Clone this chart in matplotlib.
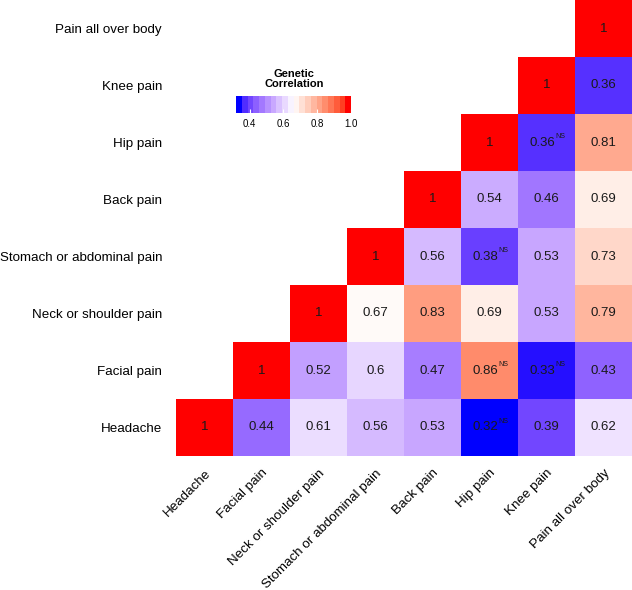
import numpy as np
import matplotlib
matplotlib.use("Agg")
import matplotlib.pyplot as plt
from matplotlib.colors import ListedColormap, Normalize

plt.rcParams['font.family'] = ['Liberation Sans', 'DejaVu Sans']

traits = ["Headache", "Facial pain", "Neck or shoulder pain", "Stomach or abdominal pain",
          "Back pain", "Hip pain", "Knee pain", "Pain all over body"]

# upper-triangular rows: row i holds columns i..7
row_headache = [1, 0.44, 0.61, 0.56, 0.53, 0.32, 0.39, 0.62]
row_facial = [1, 0.52, 0.60, 0.47, 0.86, 0.33, 0.43]
row_neck = [1, 0.67, 0.83, 0.69, 0.53, 0.79]
row_stomach = [1, 0.56, 0.38, 0.53, 0.73]
row_back = [1, 0.54, 0.46, 0.69]
row_hip = [1, 0.36, 0.81]
row_knee = [1, 0.36]
row_all = [1]
rows = [row_headache, row_facial, row_neck, row_stomach, row_back, row_hip, row_knee, row_all]

# non-significant flags (row, col)
ns_cells = [(0, 5), (1, 5), (1, 6), (3, 5), (5, 6)]


# ---- Lab-interpolated diverging colormap (blue - white - red) ----
def srgb_to_lab(rgb):
    rgb = np.asarray(rgb, float)
    lin = np.where(rgb <= 0.04045, rgb / 12.92, ((rgb + 0.055) / 1.055) ** 2.4)
    M = np.array([[0.4124, 0.3576, 0.1805], [0.2126, 0.7152, 0.0722], [0.0193, 0.1192, 0.9505]])
    xyz = M @ lin
    xyz = xyz / np.array([0.95047, 1.0, 1.08883])
    f = np.where(xyz > 0.008856, np.cbrt(xyz), 7.787 * xyz + 16 / 116)
    return np.array([116 * f[1] - 16, 500 * (f[0] - f[1]), 200 * (f[1] - f[2])])


def lab_to_srgb(lab):
    L, a, b = lab
    fy = (L + 16) / 116
    fx = fy + a / 500
    fz = fy - b / 200
    f = np.array([fx, fy, fz])
    xyz = np.where(f ** 3 > 0.008856, f ** 3, (f - 16 / 116) / 7.787)
    xyz = xyz * np.array([0.95047, 1.0, 1.08883])
    Minv = np.array([[3.2406, -1.5372, -0.4986], [-0.9689, 1.8758, 0.0415], [0.0557, -0.2040, 1.0570]])
    lin = Minv @ xyz
    lin = np.clip(lin, 0, 1)
    rgb = np.where(lin <= 0.0031308, 12.92 * lin, 1.055 * lin ** (1 / 2.4) - 0.055)
    return np.clip(rgb, 0, 1)


lab_b = srgb_to_lab([0, 0, 1])
lab_w = srgb_to_lab([1, 1, 1])
lab_r = srgb_to_lab([1, 0, 0])
cols = []
n = 256
for t in np.linspace(0, 1, n):
    if t < 0.5:
        s = t / 0.5
        lab = lab_b + (lab_w - lab_b) * s
    else:
        s = (t - 0.5) / 0.5
        lab = lab_w + (lab_r - lab_w) * s
    cols.append(lab_to_srgb(lab))
cmap = ListedColormap(cols)
vmin, vmax = 0.32, 1.0
norm = Normalize(vmin=vmin, vmax=vmax)

fig = plt.figure(figsize=(6.32, 5.90), dpi=100)
ax = fig.add_axes([176 / 632, 1 - 456 / 590, 456 / 632, 456 / 590])

nT = len(traits)
data = np.full((nT, nT), np.nan)
for i, r in enumerate(rows):
    for k, v in enumerate(r):
        data[i, i + k] = v

masked = np.ma.masked_invalid(data)
ax.pcolormesh(np.arange(nT + 1) - 0.5, np.arange(nT + 1) - 0.5, masked, cmap=cmap, norm=norm,
              edgecolor='none', linewidth=0)

for i in range(nT):
    for j in range(nT):
        v = data[i, j]
        if np.isnan(v):
            continue
        s = "1" if v == 1 else f"{v:g}"
        if (i, j) in ns_cells:
            ax.text(j - 0.08, i, s, ha='center', va='center', fontsize=9.5, color='#1a1a1a')
            ax.text(j + 0.155, i + 0.1, "NS", ha='left', va='center', fontsize=5, color='#1a1a1a')
        else:
            ax.text(j, i, s, ha='center', va='center', fontsize=9.5, color='#1a1a1a')

ax.set_xlim(-0.5, nT - 0.5)
ax.set_ylim(-0.5, nT - 0.5)
ax.set_xticks(range(nT))
ax.set_yticks(range(nT))
ax.set_xticklabels(traits, rotation=45, ha='right', va='top', rotation_mode='anchor', fontsize=9.6)
ax.set_yticklabels(traits, fontsize=9.6)
ax.tick_params(axis='y', length=0, pad=10)
ax.tick_params(axis='x', length=0, pad=8)
for sp in ax.spines.values():
    sp.set_visible(False)

# colorbar legend
cax = fig.add_axes([236 / 632, 1 - 113 / 590, 115 / 632, 17 / 590])
cb_levels = 20
cb_cmap = ListedColormap(cmap(np.linspace(0, 1, cb_levels)))
sm = matplotlib.cm.ScalarMappable(norm=norm, cmap=cb_cmap)
cb = fig.colorbar(sm, cax=cax, orientation='horizontal', ticks=[0.4, 0.6, 0.8, 1.0])
cb.outline.set_visible(False)
cb.ax.set_xticklabels(["0.4", "0.6", "0.8", "1.0"])
cb.ax.tick_params(length=3, color='white', labelsize=7, pad=4, direction='in')
fig.text(294 / 632, 1 - 79 / 590, "Genetic\nCorrelation", ha='center', va='center',
         fontsize=8, fontweight='bold', linespacing=1.05)

fig.savefig("out.png", dpi=100)
